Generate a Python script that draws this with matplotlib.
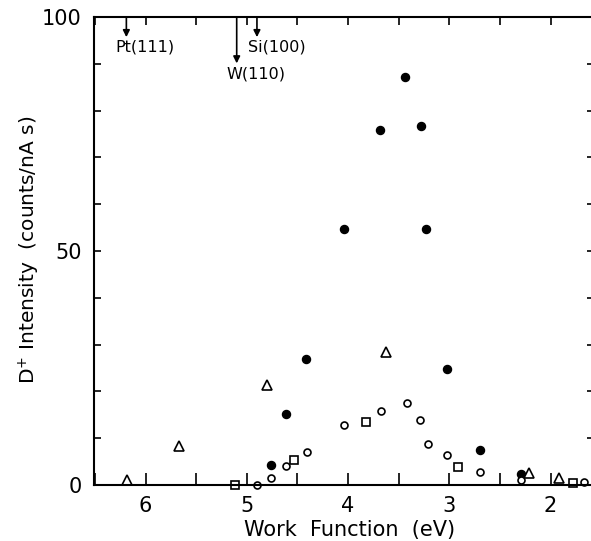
import matplotlib.pyplot as plt
from matplotlib.ticker import MultipleLocator

# filled circles
filled_wf = [4.76, 4.61, 4.42, 4.04, 3.68, 3.44, 3.28, 3.23, 3.02, 2.70, 2.29]
filled_int = [4.3, 15.1, 27.0, 54.8, 75.8, 87.2, 76.7, 54.6, 24.8, 7.5, 2.4]

# open circles
open_wf = [4.90, 4.76, 4.61, 4.41, 4.04, 3.67, 3.42, 3.29, 3.21, 3.02, 2.70, 2.29, 1.67]
open_int = [0.0, 1.6, 4.1, 7.0, 12.8, 15.9, 17.5, 13.9, 8.8, 6.4, 2.8, 1.1, 0.6]

# open triangles
tri_wf = [6.18, 5.67, 4.80, 3.63, 2.21, 1.92]
tri_int = [1.1, 8.4, 21.4, 28.4, 2.5, 1.4]

# open squares
sq_wf = [5.12, 4.53, 3.82, 2.91, 1.78]
sq_int = [0.0, 5.4, 13.5, 3.9, 0.5]

# reference work functions marked at the top
ref_names = ['Pt(111)', 'W(110)', 'Si(100)']
ref_wf = [6.19, 5.10, 4.90]

plt.rcParams['font.family'] = 'DejaVu Sans'

fig = plt.figure(figsize=(5.91, 5.41), dpi=100)
ax = fig.add_axes([0.159, 0.1035, 0.841, 0.865])

ax.plot(filled_wf, filled_int, 'o', ms=5.8, color='black', mec='black', clip_on=False)
ax.plot(open_wf, open_int, 'o', ms=5.0, mfc='white', mec='black', mew=1.2, clip_on=False)
ax.plot(tri_wf, tri_int, '^', ms=7.0, mfc='white', mec='black', mew=1.2, clip_on=False)
ax.plot(sq_wf, sq_int, 's', ms=5.8, mfc='white', mec='black', mew=1.2, clip_on=False)

ax.set_xlim(6.51, 1.60)
ax.set_ylim(0, 100)

ax.xaxis.set_major_locator(MultipleLocator(1))
ax.xaxis.set_minor_locator(MultipleLocator(0.5))
ax.yaxis.set_major_locator(MultipleLocator(50))
ax.yaxis.set_minor_locator(MultipleLocator(10))

ax.tick_params(axis='x', which='both', direction='in', top=True, bottom=True,
               length=9, width=1.2, labelsize=15, pad=8)
ax.tick_params(axis='y', which='both', direction='in', left=True, right=True,
               length=5, width=1.2, labelsize=15, pad=9)

# shorter ticks on the top and right edges
for t in ax.xaxis.get_major_ticks() + ax.xaxis.get_minor_ticks():
    t.tick2line.set_markersize(6)
for t in ax.yaxis.get_major_ticks() + ax.yaxis.get_minor_ticks():
    t.tick2line.set_markersize(3)

ax.spines['right'].set_visible(False)
for s in ['left', 'bottom', 'top']:
    ax.spines[s].set_linewidth(1.5)

ax.set_xlabel('Work  Function  (eV)', fontsize=15)
ax.xaxis.set_label_coords(0.515, -0.075)
ax.set_ylabel('D$^{+}$ Intensity  (counts/nA s)', fontsize=14.5)
ax.yaxis.set_label_coords(-0.104, 0.503)

tips = [95.7, 90.1, 95.7]
for name, wf, tip in zip(ref_names, ref_wf, tips):
    ax.annotate('', xy=(wf, tip), xytext=(wf, 100),
                arrowprops=dict(arrowstyle='-|>', color='black', lw=1.2,
                                mutation_scale=10, shrinkA=0, shrinkB=0))

ax.text(6.30, 93.6, 'Pt(111)', fontsize=11.5, va='center', ha='left')
ax.text(4.99, 93.6, 'Si(100)', fontsize=11.5, va='center', ha='left')
ax.text(5.20, 87.8, 'W(110)', fontsize=11.5, va='center', ha='left')

fig.savefig('out.png', dpi=100)
